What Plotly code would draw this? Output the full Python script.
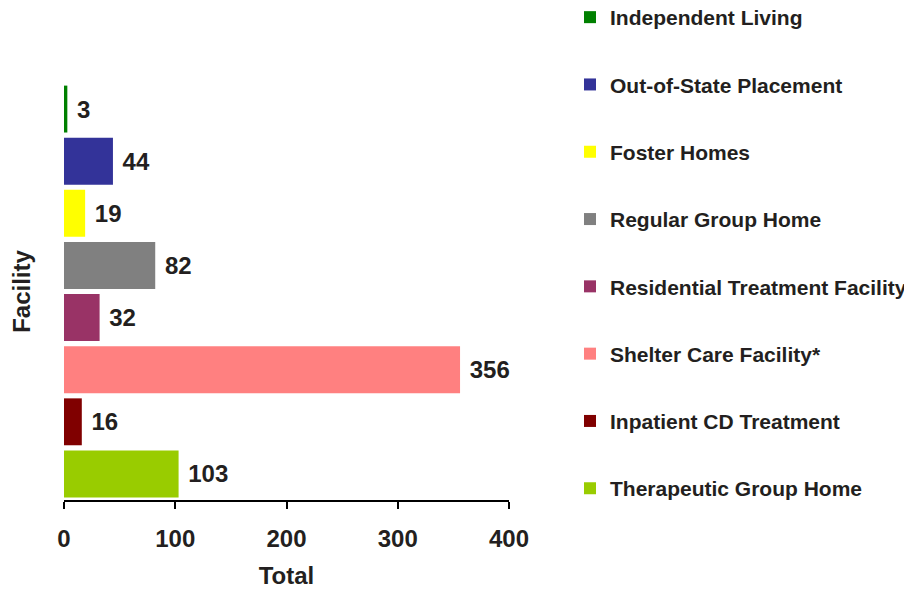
# Horizontal bar chart - placements by facility type
import plotly.graph_objs as go

# Data - categories listed top to bottom as in the chart
facilities = ['Independent Living',
              'Out-of-State Placement',
              'Foster Homes',
              'Regular Group Home',
              'Residential Treatment Facility',
              'Shelter Care Facility*',
              'Inpatient CD Treatment',
              'Therapeutic Group Home']
totals = [3, 44, 19, 82, 32, 356, 16, 103]
colors = ['#008000', '#333399', '#FFFF00', '#808080',
          '#993366', '#FF8080', '#800000', '#99CC00']
x_ticks = [0, 100, 200, 300, 400]

font_family = 'Liberation Sans, Arial, sans-serif'
text_color = '#231F20'

# page has an 8px body margin, so the figure is sized to fit the window
fig_w, fig_h = 904, 581
plot_top, plot_h = 75, 417

# One trace per facility so every bar gets its own legend entry
data = []
for i, name in enumerate(facilities):
    data.append(go.Bar(x=[totals[i]],
                       y=[name],
                       name=name,
                       orientation='h',
                       legendgroup=name,
                       marker=dict(color=colors[i], line=dict(width=0)),
                       text=['\u00a0' + str(totals[i])],
                       textposition='outside',
                       cliponaxis=False,
                       textfont=dict(family=font_family, size=24,
                                     color=text_color, weight='bold')))

layout = go.Layout(width=fig_w, height=fig_h,
                   plot_bgcolor='white',
                   paper_bgcolor='white',
                   barmode='overlay',
                   bargap=0.1,
                   margin=dict(l=56, r=403, t=plot_top, b=89,
                               autoexpand=False),
                   font=dict(family=font_family, color=text_color),
                   xaxis=dict(title=dict(text='Total', standoff=21,
                                         font=dict(size=24, weight='bold')),
                              range=[0, 400],
                              tickvals=x_ticks,
                              tickfont=dict(size=24, weight='bold'),
                              ticks='outside', ticklen=7, tickwidth=2,
                              tickcolor='black',
                              ticklabelstandoff=9,
                              showline=True, linecolor='black', linewidth=2,
                              showgrid=False, zeroline=False,
                              automargin=False),
                   yaxis=dict(title=dict(text='Facility', standoff=34,
                                         font=dict(size=24, weight='bold')),
                              categoryorder='array',
                              categoryarray=facilities[::-1],
                              showticklabels=False,
                              showline=False, showgrid=False,
                              zeroline=False, automargin=False),
                   legend=dict(x=562 / fig_w, xref='container', xanchor='left',
                               y=1 + (plot_top + 11) / plot_h, yref='paper',
                               yanchor='top',
                               maxheight=700,
                               traceorder='grouped',
                               tracegroupgap=37,
                               font=dict(size=21, weight='bold',
                                         color=text_color)),
                   showlegend=True)

fig = go.Figure(data=data, layout=layout)
fig.write_html('out.html')
